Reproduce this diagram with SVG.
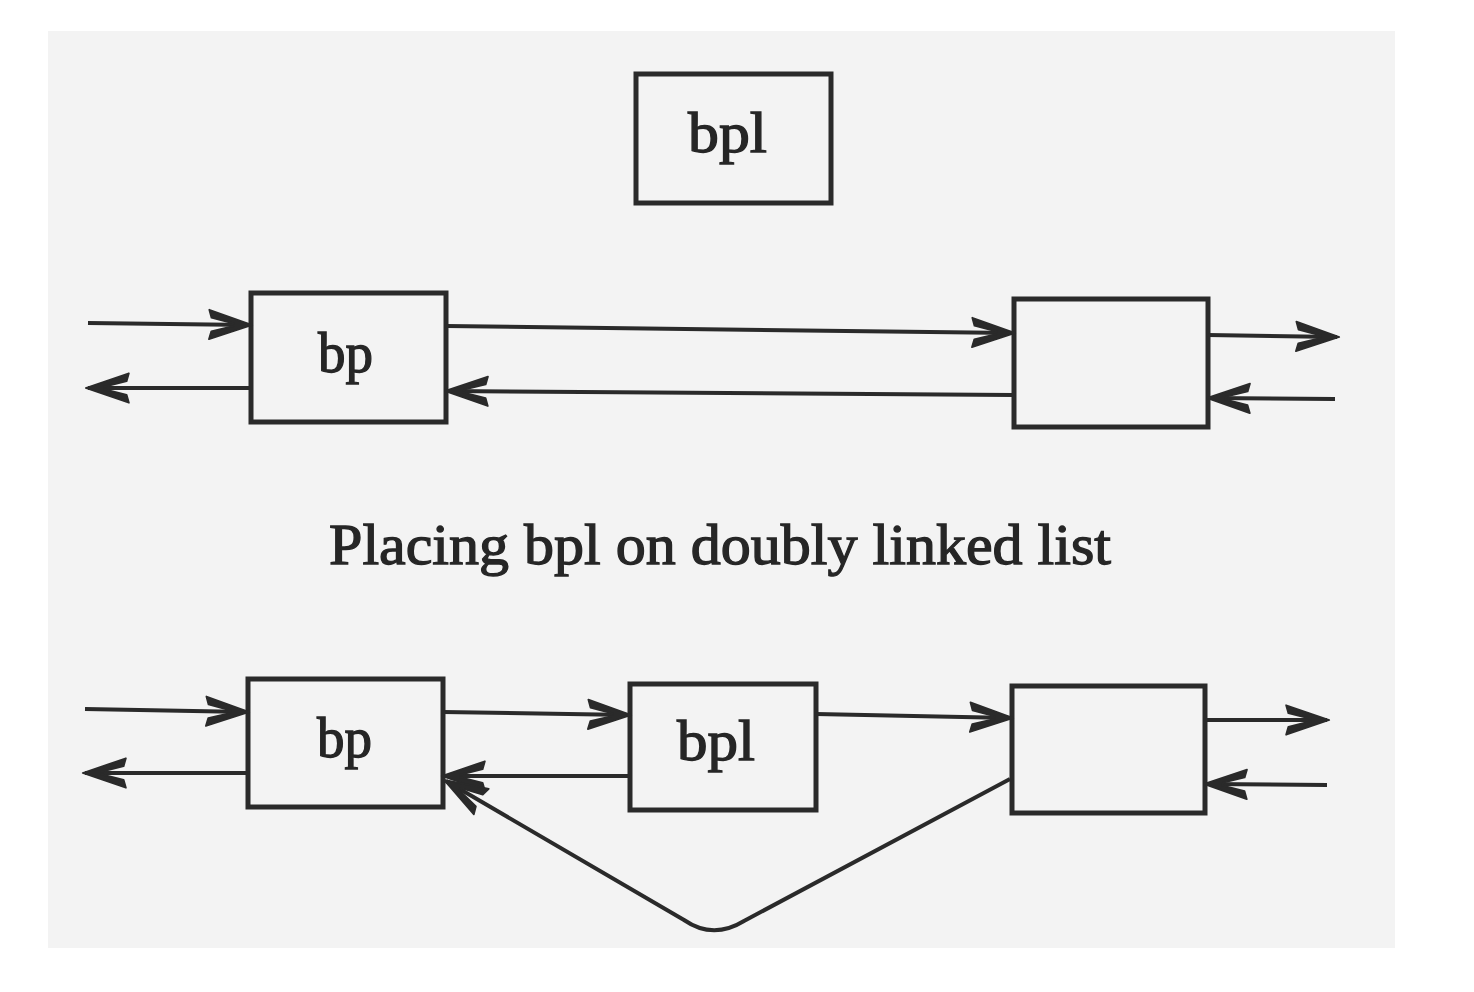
<svg xmlns="http://www.w3.org/2000/svg" width="1474" height="992" viewBox="0 0 1474 992">
<defs>
<style>
.box{fill:none;stroke:#2a2a2a;stroke-width:5}
.ln{fill:none;stroke:#2a2a2a;stroke-width:4;marker-end:url(#ah)}
.lbl{font-family:"Liberation Serif","Times New Roman",serif;font-size:56px;fill:#262626;stroke:#262626;stroke-width:1.3}
.cap{font-family:"Liberation Serif","Times New Roman",serif;font-size:58px;fill:#262626;stroke:#262626;stroke-width:1.3}
</style>
<marker id="ah" markerUnits="userSpaceOnUse" markerWidth="50" markerHeight="40" viewBox="-40 -16 44 32" refX="0" refY="0" orient="auto">
<path d="M2,0 L-36,-13 L-34,-6 L-14,-1 L-14,1 L-34,6 L-36,13 Z" fill="#2a2a2a" stroke="#2a2a2a" stroke-width="1.5" stroke-linejoin="round"/>
</marker>
</defs>
<rect width="1474" height="992" fill="#ffffff"/>
<rect x="48" y="31" width="1347" height="917" fill="#f3f3f3"/>

<g id="node-top-bpl">
<rect class="box" x="636" y="74" width="195" height="129"/>
<text class="lbl" x="688" y="152" textLength="79" lengthAdjust="spacingAndGlyphs">bpl</text>
</g>

<g id="node-r1-bp">
<rect class="box" x="251" y="293" width="195" height="129"/>
<text class="lbl" x="318" y="372" textLength="55" lengthAdjust="spacingAndGlyphs">bp</text>
</g>
<g id="node-r1-next">
<rect class="box" x="1014" y="299" width="194" height="128"/>
</g>

<g id="caption">
<text class="cap" x="329" y="564" textLength="782" lengthAdjust="spacingAndGlyphs">Placing bpl on doubly linked list</text>
</g>

<g id="node-r2-bp">
<rect class="box" x="248" y="679" width="195" height="128"/>
<text class="lbl" x="317" y="757" textLength="55" lengthAdjust="spacingAndGlyphs">bp</text>
</g>
<g id="node-r2-bpl">
<rect class="box" x="630" y="684" width="186" height="126"/>
<text class="lbl" x="677" y="760" textLength="78" lengthAdjust="spacingAndGlyphs">bpl</text>
</g>
<g id="node-r2-next">
<rect class="box" x="1012" y="686" width="193" height="127"/>
</g>

<g id="connectors">
<path class="ln" d="M88,323 L250,325"/>
<path class="ln" d="M250,388 L88,388"/>
<path class="ln" d="M446,326 L1013,333"/>
<path class="ln" d="M1013,395 L447,391"/>
<path class="ln" d="M1208,335 L1337,337"/>
<path class="ln" d="M1335,399 L1209,398"/>
<path class="ln" d="M85,709 L247,712"/>
<path class="ln" d="M247,773 L85,773"/>
<path class="ln" d="M443,712 L629,715"/>
<path class="ln" d="M629,776 L444,776"/>
<path class="ln" d="M816,714 L1011,718"/>
<path class="ln" d="M1205,720 L1327,720"/>
<path class="ln" d="M1327,785 L1206,784"/>
<path class="ln" d="M1010,779 L744,921 Q713,940 684,920 L446,781"/>
</g>
</svg>
